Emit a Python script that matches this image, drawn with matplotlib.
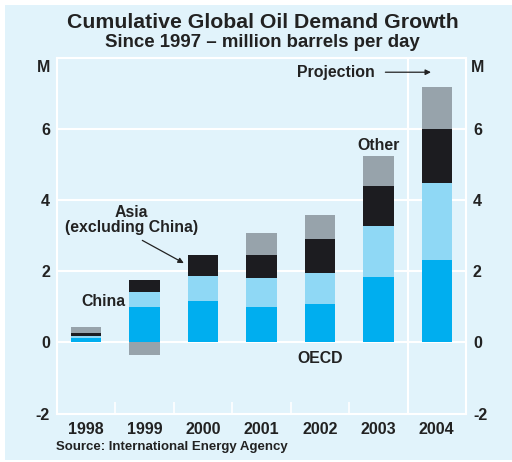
import numpy as np
import matplotlib.pyplot as plt
from matplotlib.patches import Rectangle

plt.rcParams['font.family'] = ['Liberation Sans', 'DejaVu Sans']
plt.rcParams['font.weight'] = 'bold'

years = ['1998', '1999', '2000', '2001', '2002', '2003', '2004']
# cumulative growth since 1997, million barrels per day
oecd = [0.13, 1.00, 1.16, 1.00, 1.08, 1.84, 2.31]
china = [0.06, 0.42, 0.71, 0.81, 0.87, 1.43, 2.16]
asia_ex_china = [0.07, 0.34, 0.60, 0.65, 0.95, 1.12, 1.54]
other = [0.18, -0.35, 0.0, 0.62, 0.68, 0.84, 1.18]

bg = '#e1f3fb'
ink = '#222222'
series = [(oecd, '#00aeef'), (china, '#8fd8f5'),
          (asia_ex_china, '#1c1c20'), (other, '#97a3ab')]

fig = plt.figure(figsize=(5.12, 4.62), dpi=100)
fig.patch.set_facecolor('white')
fig.patches.append(Rectangle((5 / 512, 0.005), 1, 0.99 - 0.005, transform=fig.transFigure,
                             facecolor=bg, edgecolor='none', zorder=-10))

ax = fig.add_axes([57 / 512, 1 - 413.5 / 462, 409 / 512, 355.5 / 462])
ax.set_facecolor(bg)
x = np.arange(len(years))
pos_base = np.zeros(len(years))
neg_base = np.zeros(len(years))
for vals, col in series:
    v = np.array(vals)
    base = np.where(v >= 0, pos_base, neg_base)
    ax.bar(x, v, 0.52, bottom=base, color=col, zorder=3)
    pos_base += np.clip(v, 0, None)
    neg_base += np.clip(v, None, 0)

ax.set_xlim(-0.5, 6.5)
ax.set_ylim(-2, 8)
ax.set_yticks([-2, 0, 2, 4, 6])
ax.set_yticklabels(['-2', '0', '2', '4', '6'])
ax.set_xticks(x)
ax.set_xticklabels(years)
ax.set_xticks(np.arange(0.5, 6.5, 1), minor=True)
ax.tick_params(axis='x', which='major', length=0, labelsize=11.5, pad=6, labelcolor=ink)
ax.tick_params(axis='x', which='minor', direction='in', length=9, width=1.2,
               color='white')
ax.tick_params(axis='y', length=0, labelsize=11.5, pad=5, labelcolor=ink,
               labelleft=True, labelright=True)
for lab in ax.get_xticklabels() + ax.get_yticklabels():
    lab.set_fontweight('bold')
for s in ax.spines.values():
    s.set_color('white')
    s.set_linewidth(1.5)
for yv in [0, 2, 4, 6]:
    ax.axhline(yv, color='white', lw=1.5, zorder=1)
ax.axvline(5.5, color='white', lw=1.5, zorder=1)

fig.text(263 / 512, 0.952, 'Cumulative Global Oil Demand Growth', ha='center', va='center',
         fontsize=15.3, fontweight='bold', color=ink)
fig.text(262 / 512, 0.907, 'Since 1997 \u2013 million barrels per day', ha='center', va='center',
         fontsize=13.4, fontweight='bold', color=ink)
fig.text(44 / 512, 1 - 67 / 462, 'M', ha='center', va='center', fontsize=11.5,
         fontweight='bold', color=ink)
fig.text(478 / 512, 1 - 67 / 462, 'M', ha='center', va='center', fontsize=11.5,
         fontweight='bold', color=ink)
fig.text(56 / 512, 1 - 447 / 462, 'Source: International Energy Agency', ha='left', va='center',
         fontsize=9.5, fontweight='bold', color=ink)

txt = dict(fontsize=11.4, fontweight='bold', color=ink)
ax.annotate('Projection', xy=(5.9, 7.6), xytext=(4.93, 7.6), ha='right', va='center',
            arrowprops=dict(arrowstyle='-|>', color=ink, lw=0.9,
                            mutation_scale=8, shrinkA=6, shrinkB=0), **txt)
ax.text(5, 5.55, 'Other', ha='center', va='center', **txt)
ax.text(0.77, 3.45, 'Asia\n(excluding China)', ha='center', va='center',
        linespacing=1.0, **txt)
ax.annotate('', xy=(1.67, 2.23), xytext=(0.96, 2.87),
            arrowprops=dict(arrowstyle='-|>', color=ink, lw=0.9,
                            mutation_scale=8, shrinkA=0, shrinkB=0))
ax.text(0.3, 1.15, 'China', ha='center', va='center', **txt)
ax.text(4.0, -0.45, 'OECD', ha='center', va='center', **txt)

fig.savefig('out.png', dpi=100, facecolor=fig.get_facecolor())
